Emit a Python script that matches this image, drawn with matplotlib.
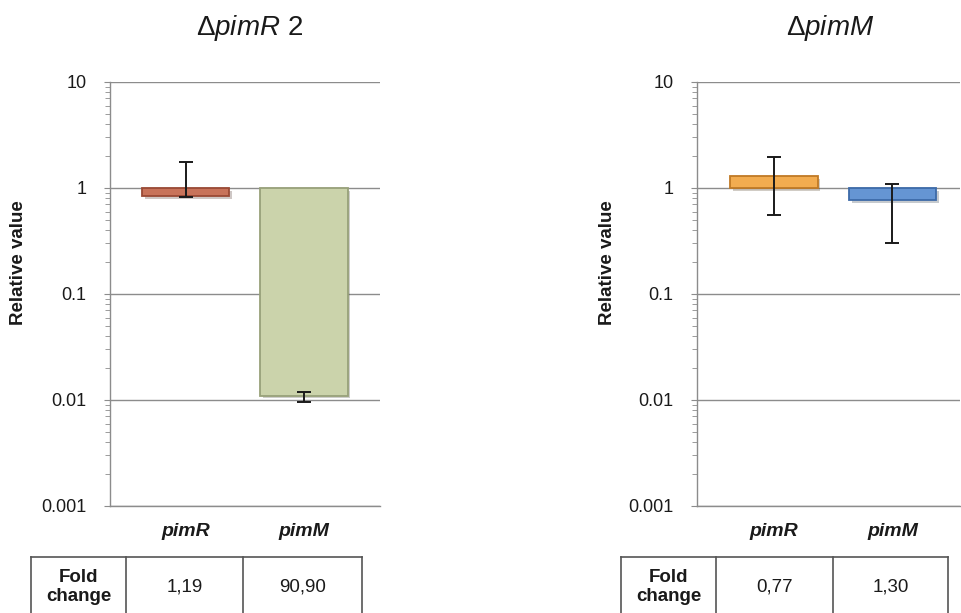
import matplotlib
matplotlib.use('Agg')
import matplotlib.pyplot as plt
import matplotlib.patheffects as pe
from matplotlib.ticker import LogLocator, NullFormatter, FixedFormatter, FixedLocator

plt.rcParams['font.family'] = ['Liberation Sans', 'DejaVu Sans']
plt.rcParams['mathtext.fontset'] = 'custom'
plt.rcParams['mathtext.rm'] = 'Liberation Sans'
plt.rcParams['mathtext.it'] = 'Liberation Sans:italic'
plt.rcParams['mathtext.bf'] = 'Liberation Sans:bold'

genes = ['pimR', 'pimM']

# left panel: delta pimR 2
left_title = r'$\Delta\mathit{pimR}$ 2'
left_vals = [0.84, 0.011]
left_err_lo = [0.02, 0.0014]
left_err_hi = [0.92, 0.0008]
left_fold = ['1,19', '90,90']
left_colors = ['#C8735A', '#CBD3AB']
left_edges = ['#9A4A35', '#98A17A']

# right panel: delta pimM
right_title = r'$\Delta\mathit{pimM}$'
right_vals = [1.30, 0.77]
right_err_lo = [0.74, 0.47]
right_err_hi = [0.66, 0.32]
right_fold = ['0,77', '1,30']
right_colors = ['#F2AC50', '#6595D3']
right_edges = ['#C07A25', '#3D6AA8']

W, H = 961, 613
fig = plt.figure(figsize=(W / 100, H / 100), dpi=100)
grey = '#8C8C8C'
ink = '#1A1A1A'


def panel(x0, x1, xlim, title, tx, ylab_x, vals, lo, hi, colors, edges, fold, tbl):
    ax = fig.add_axes([x0 / W, 1 - 506 / H, (x1 - x0) / W, (506 - 82) / H])
    ax.set_yscale('log')
    ax.set_ylim(0.001, 10)
    ax.set_xlim(*xlim)
    xs = list(range(len(vals)))
    heights = [v - 1 for v in vals]
    bars = ax.bar(xs, heights, bottom=1, width=0.735, color=colors, edgecolor=edges,
                  linewidth=1.3, zorder=3)
    for b in bars:
        b.set_path_effects([pe.SimplePatchShadow(offset=(2, -2), alpha=0.25),
                            pe.Normal()])
    ax.errorbar(xs, vals, yerr=[lo, hi], fmt='none', ecolor=ink,
                elinewidth=1.4, capsize=5, capthick=1.4, zorder=4)
    ax.yaxis.set_major_locator(FixedLocator([0.001, 0.01, 0.1, 1, 10]))
    ax.yaxis.set_major_formatter(FixedFormatter(['0.001', '0.01', '0.1', '1', '10']))
    ax.yaxis.set_minor_locator(LogLocator(base=10, subs=range(2, 10)))
    ax.yaxis.set_minor_formatter(NullFormatter())
    ax.grid(axis='y', which='major', color=grey, linewidth=1.0, zorder=0)
    ax.tick_params(axis='y', which='major', length=4, color=grey, labelsize=13,
                   pad=13, labelcolor=ink)
    ax.tick_params(axis='y', which='minor', length=3.5, color=grey)
    ax.set_xticks(xs)
    ax.set_xticklabels(genes, fontsize=14, fontweight='bold', style='italic',
                       color=ink)
    ax.tick_params(axis='x', length=0, pad=12)
    for s in ['top', 'right']:
        ax.spines[s].set_visible(False)
    for s in ['left', 'bottom']:
        ax.spines[s].set_color(grey)
        ax.spines[s].set_linewidth(1.0)
    ax.set_ylabel('Relative value', fontsize=13.5, fontweight='bold', color=ink)
    ax.yaxis.set_label_coords((ylab_x - x0) / (x1 - x0), 0.575)
    fig.text(tx / W, 1 - 28 / H, title, fontsize=20, ha='center', va='center',
             color=ink)

    # fold change table
    c = tbl
    tax = fig.add_axes([c[0] / W, 1 - 640 / H, (c[-1] - c[0]) / W, (640 - 557) / H])
    tax.set_xlim(c[0], c[-1])
    tax.set_ylim(640, 557)
    tax.axis('off')
    tax.plot([c[0], c[-1]], [557, 557], color='#555555', lw=1.2, clip_on=False)
    for cx in c:
        tax.plot([cx, cx], [557, 640], color='#555555', lw=1.2, clip_on=False)
    tax.text((c[0] + c[1]) / 2, 587, 'Fold\nchange', ha='center', va='center',
             fontsize=13.5, fontweight='bold', linespacing=1.2, color=ink)
    for i, f in enumerate(fold):
        tax.text((c[i + 1] + c[i + 2]) / 2, 587, f, ha='center', va='center',
                 fontsize=13.5, color=ink)
    return ax


panel(110, 380, (-0.637, 1.641), left_title, 250, 27, left_vals, left_err_lo,
      left_err_hi, left_colors, left_edges, left_fold, [31, 126, 243, 362])
panel(697, 960, (-0.65, 1.57), right_title, 830, 616, right_vals, right_err_lo,
      right_err_hi, right_colors, right_edges, right_fold, [621, 716, 833, 948])

fig.savefig('out.png', dpi=100)
